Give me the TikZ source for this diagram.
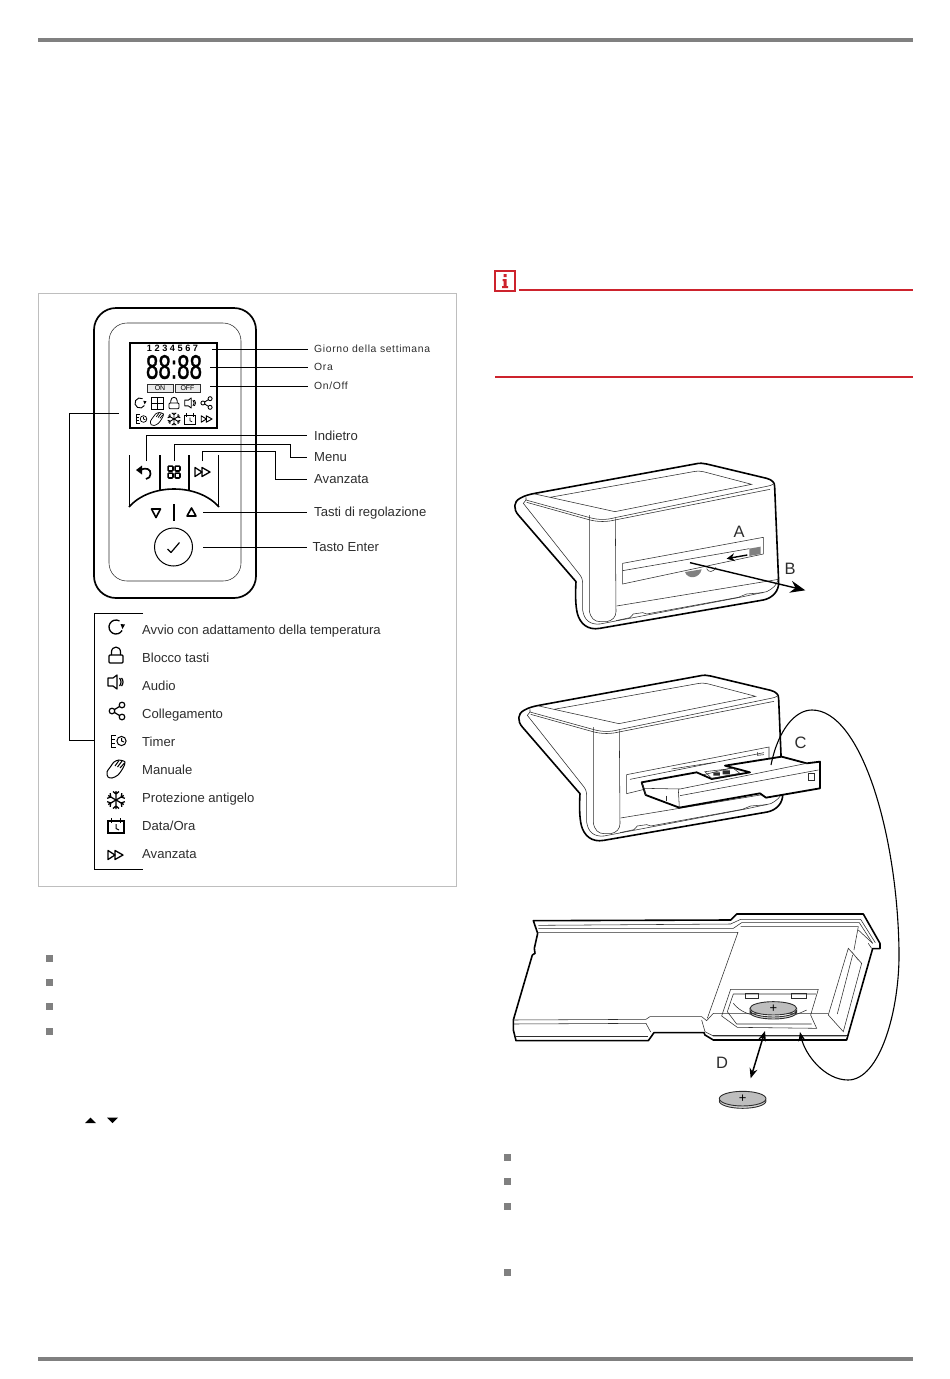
\documentclass[tikz,border=0pt]{standalone}
\usepackage{fontspec}
\setmainfont{Liberation Sans}
\newfontfamily\spacedfont[LetterSpace=6]{Liberation Sans}
\newfontfamily\clockfont[FakeBold=1.2]{Liberation Sans}
\usetikzlibrary{arrows.meta}
\definecolor{barGray}{RGB}{128,128,128}
\definecolor{boxGray}{RGB}{190,190,190}
\definecolor{coinGray}{RGB}{190,190,190}
\definecolor{inkGray}{RGB}{45,45,45}
\definecolor{warnRed}{RGB}{205,35,45}
\tikzset{
  lbl/.style={anchor=west,inner sep=0pt,text height=12pt,text depth=2pt,text=inkGray,font=\fontsize{13.1}{15}\selectfont},
  keylbl/.style={lbl,text height=11pt},
  smalllbl/.style={lbl,text height=8.5pt,text depth=2pt,font=\fontsize{10.4}{13}\spacedfont},
  leader/.style={line width=0.8pt,black},
  letterlbl/.style={inner sep=0pt,text=inkGray,font=\fontsize{16.5}{18}\selectfont},
  thin_line/.style={line width=0.55pt,inkGray},
  thick_line/.style={line width=1.6pt,black,line join=round},
  bullet/.style={fill=barGray,draw=none},
}
% icons: x, y, scale; drawn in a box of about 16 units
\newcommand{\iconrestart}[3]{\begin{scope}[shift={(#1,#2)},scale=#3,line width=#3*1.3pt]
\draw (6.06,3.5) arc (30:300:7);
\fill (4.5,-3) -- (9,-2.5) -- (6.5,2) -- cycle;
\end{scope}}
\newcommand{\iconlock}[3]{\begin{scope}[shift={(#1,#2)},scale=#3,line width=#3*1.2pt]
\draw[rounded corners=1pt] (-7,0) rectangle (7,8);
\draw (-4.5,0) -- (-4.5,-3) .. controls (-4.5,-9.5) and (4.5,-9.5) .. (4.5,-3) -- (4.5,0);
\end{scope}}
\newcommand{\iconaudio}[3]{\begin{scope}[shift={(#1,#2)},scale=#3,line width=#3*1.2pt]
\draw[line join=round] (-8,-4) -- (-3,-4) -- (1,-7) -- (1,7) -- (-3,4) -- (-8,4) -- cycle;
\draw (3.5,-4) .. controls (5.5,-2) and (5.5,2) .. (3.5,4);
\draw (5.5,-4) .. controls (7.5,-2) and (7.5,2) .. (5.5,4);
\end{scope}}
\newcommand{\iconshare}[3]{\begin{scope}[shift={(#1,#2)},scale=#3,line width=#3*1.2pt]
\draw (-5,0) circle (2.8) (5,-6) circle (2.8) (5,6) circle (2.8);
\draw (-2.6,-1.4) -- (2.6,-4.6) (-2.6,1.4) -- (2.6,4.6);
\end{scope}}
\newcommand{\icontimer}[3]{\begin{scope}[shift={(#1,#2)},scale=#3,line width=#3*1pt]
\draw (-2,-6) -- (-7,-6) -- (-7,6) -- (-2,6) (-7,-2) -- (-3,-2) (-7,2) -- (-3,2);
\draw (3.5,0) circle (4.6);
\draw (3.5,-3) -- (3.5,0) -- (6,1);
\end{scope}}
\newcommand{\iconhand}[3]{\begin{scope}[shift={(#1,#2)},scale=#3,line width=#3*1pt]
\draw plot[smooth cycle] coordinates {(-8,8) (-9,3) (-5,-3) (-2,-7) (3,-9) (9,-7) (7,-1) (2,6) (-4,9)};
\draw (-1,-3) -- (3,-8.5) (1.5,-2) -- (6,-8) (4,-1) -- (8.5,-6);
\end{scope}}
\newcommand{\iconsnow}[3]{\begin{scope}[shift={(#1,#2)},scale=#3,line width=#3*1.25pt]
\foreach \a in {0,60,120,180,240,300} {
\draw[rotate=\a] (0,0) -- (0,-9) (-3,-8.5) -- (0,-6) -- (3,-8.5);
}
\end{scope}}
\newcommand{\iconcal}[3]{\begin{scope}[shift={(#1,#2)},scale=#3,line width=#3*1.4pt]
\draw (-8,-5) rectangle (8,7);
\draw (-4.5,-8) -- (-4.5,-3) (4.5,-8) -- (4.5,-3);
\draw[line width=#3*1pt] (0,-2) -- (0,2.5) -- (3,4);
\end{scope}}
\newcommand{\iconff}[3]{\begin{scope}[shift={(#1,#2)},scale=#3,line width=#3*1.3pt]
\draw[line join=round] (-8,-4.5) -- (-1,0) -- (-8,4.5) -- cycle;
\draw[line join=round] (-1,-4.5) -- (7,0) -- (-1,4.5) -- cycle;
\end{scope}}
% base unit with the slanted top, drawn in 1/3 px
\newcommand{\devicebody}{
\draw[thick_line,fill=white] (105,130) -- (585,42) .. controls (600,38) and (610,40) .. (620,42) -- (800,85)
  .. controls (818,90) and (824,98) .. (824,110) -- (836,395) .. controls (838,425) and (815,445) .. (790,450)
  -- (300,535) .. controls (262,542) and (240,520) .. (232,490) .. controls (226,465) and (226,430) .. (228,395)
  -- (55,195) .. controls (40,178) and (40,155) .. (60,145) .. controls (75,136) and (90,133) .. (105,130) -- cycle;
\draw[thin_line] (78,150) -- (70,160) -- (240,375) .. controls (248,385) and (248,395) .. (248,410) -- (248,480)
  .. controls (252,510) and (270,525) .. (300,522) -- (720,442) -- (800,425) .. controls (820,415) and (830,405) .. (834,390);
\draw[thin_line] (78,142) -- (78,150) -- (270,203) .. controls (295,210) and (320,210) .. (345,203) -- (805,108) .. controls (815,106) and (822,102) .. (824,98);
\draw[thin_line] (80,157) -- (270,210) .. controls (295,216) and (320,216) .. (345,210) -- (810,118);
\draw[thin_line] (105,132) -- (150,142) -- (345,185) -- (755,103) -- (610,65) .. controls (600,63) and (590,62) .. (580,65) -- (150,142);
\draw[thin_line] (268,195) -- (268,480) .. controls (270,505) and (285,515) .. (300,515) -- (320,515) .. controls (338,512) and (348,500) .. (348,485) -- (346,205);
\draw[thin_line] (350,468) -- (836,388);
\draw[thin_line] (348,512) -- (390,503) -- (400,492) -- (428,488) -- (440,492) -- (715,442) -- (740,432) -- (790,428);
}
\begin{document}
\begin{tikzpicture}[x=1pt,y=-1pt]
\useasboundingbox (0,0) rectangle (950,1379);
\draw[barGray,line width=3.6pt] (38,40) -- (913,40);
\draw[barGray,line width=3.6pt] (38,1359) -- (913,1359);
\draw[boxGray,line width=0.9pt] (38,293) rectangle (456,886);

% thermostat front
\draw[line width=1.7pt,rounded corners=22pt] (94,308) rectangle (256,598);
\draw[thin_line,rounded corners=18pt] (109,323) rectangle (241,581);
\draw[line width=2pt] (130,343) rectangle (217,428);
\node[inner sep=0pt,font=\bfseries\fontsize{9.2}{11}\selectfont] (day_digits) at (172.5,348.5) {1 2 3 4 5 6 7};
\node[inner sep=0pt,xscale=0.66,transform shape,font=\clockfont\fontsize{34}{36}\selectfont] (clock_digits) at (174,367) {88:88};
\draw[inkGray,line width=1pt,fill=black!8] (147,384) rectangle (173,392) (175,384) rectangle (200,392);
\node[inner sep=0pt,font=\fontsize{7}{8}\selectfont] (on_text) at (160,388.3) {ON};
\node[inner sep=0pt,font=\fontsize{7}{8}\selectfont] (off_text) at (187.5,388.3) {OFF};
\iconrestart{140}{403}{0.72}
\draw[line width=0.9pt] (151,397) rectangle (163,409) (157,397) -- (157,409) (151,403) -- (163,403);
\iconlock{174}{403}{0.72}
\iconaudio{190.5}{403}{0.72}
\iconshare{206.5}{403}{0.72}
\icontimer{141}{419}{0.72}
\iconhand{157}{419}{0.72}
\iconsnow{174}{419}{0.72}
\iconcal{190}{419}{0.72}
\iconff{207}{419}{0.72}

% buttons
\draw[line width=1.6pt] (129.5,455) -- (129.5,507) (218.5,455) -- (218.5,507);
\draw[line width=1.6pt] (160,455) -- (160,490) (189,455) -- (189,490);
\draw[line width=1.6pt] (129,507) .. controls (150,483) and (198,483) .. (219,507);
\draw[line width=1.7pt] (140,470) .. controls (146,467) and (151,469) .. (150.5,474) .. controls (150.5,477) and (149,478) .. (146,479);
\fill (136,470) -- (142,465.5) -- (142,474.5) -- cycle;
\foreach \i in {-1,1} \foreach \j in {-1,1}
  \draw[line width=1.7pt,rounded corners=0.8pt] (174+\i*3.5-2.4,472+\j*3.5-2.4) rectangle (174+\i*3.5+2.4,472+\j*3.5+2.4);
\iconff{203}{472}{1}
\draw[line width=1.6pt,line join=round] (151.5,509) -- (160.5,509) -- (156,517.5) -- cycle;
\draw[line width=1.6pt,line join=round] (187,516) -- (196,516) -- (191.5,508) -- cycle;
\draw[line width=2pt] (174,504) -- (174,521);
\node[circle,draw,line width=1pt,minimum size=38pt,inner sep=0pt] (enter_key) at (173.5,547) {};
\draw[line width=1.2pt,line join=round] (167.5,549) -- (171,552.5) -- (179.5,542.5);

% display and key labels
\node[smalllbl] (lbl_day) at (314,349) {Giorno della settimana};
\node[smalllbl] (lbl_hour) at (314,367) {Ora};
\node[smalllbl] (lbl_onoff) at (314,386) {On/Off};
\node[lbl] (lbl_back) at (314,435.5) {Indietro};
\node[keylbl] (lbl_menu) at (314,457) {Menu};
\node[keylbl] (lbl_adv) at (314,479) {Avanzata};
\node[keylbl] (lbl_adjust) at (314,512) {Tasti di regolazione};
\node[keylbl] (lbl_enter) at (312.5,547) {Tasto Enter};
\draw[leader] (212,349) -- ([shift={(-6,0)}] lbl_day.west);
\draw[leader] (210,367) -- ([shift={(-6,0)}] lbl_hour.west);
\draw[leader] (210,386) -- ([shift={(-6,0)}] lbl_onoff.west);
\draw[leader] (146,461) -- (146,435.5) -- ([shift={(-7,0)}] lbl_back.west);
\draw[leader] (174,461) -- (174,444) -- (290,444) -- (290,457) -- ([shift={(-7,0)}] lbl_menu.west);
\draw[leader] (202,461) -- (202,451.5) -- (275,451.5) -- (275,479) -- ([shift={(-7,0)}] lbl_adv.west);
\draw[leader] (203,512) -- ([shift={(-7,0)}] lbl_adjust.west);
\draw[leader] (203,547) -- ([shift={(-6,0)}] lbl_enter.west);

% legend
\draw[leader] (143,613) -- (94,613) -- (94,869) -- (143,869);
\draw[leader] (94,740) -- (69,740) -- (69,413) -- (119,413);
\iconrestart{116}{627}{1}
\node[lbl] (leg_start) at (142,629.5) {Avvio con adattamento della temperatura};
\iconlock{116}{655}{1}
\node[lbl] (leg_lock) at (142,657.5) {Blocco tasti};
\iconaudio{116}{682}{1}
\node[lbl] (leg_audio) at (142,685.5) {Audio};
\iconshare{117}{711}{1}
\node[lbl] (leg_link) at (142,713.5) {Collegamento};
\icontimer{118}{741}{1}
\node[lbl] (leg_timer) at (142,741.5) {Timer};
\iconhand{116}{769}{1}
\node[lbl] (leg_manual) at (142,769.5) {Manuale};
\iconsnow{116}{800}{1}
\node[lbl] (leg_frost) at (142,797.5) {Protezione antigelo};
\iconcal{116}{826}{1}
\node[lbl] (leg_date) at (142,825.5) {Data/Ora};
\iconff{116}{855}{1}
\node[lbl] (leg_adv) at (142,853.5) {Avanzata};

% bullets left
\foreach \y in {958,982,1006,1031} \fill[bullet] (46,\y-3.5) rectangle (53,\y+3.5);
\fill (85,1123) -- (96,1123) -- (90.5,1117.5) -- cycle;
\fill (107,1117.5) -- (118,1117.5) -- (112.5,1123) -- cycle;

% note frame
\draw[warnRed,line width=1.5pt] (495,271) rectangle (515,291);
\fill[warnRed] (503.5,274) rectangle (506.5,277) (502.5,279) -- (506.5,279) -- (506.5,286) -- (508,286) -- (508,288) -- (502,288) -- (502,286) -- (503.5,286) -- (503.5,281) -- (502.5,281) -- cycle;
\draw[warnRed,line width=1.6pt] (519,290) -- (913,290);
\draw[warnRed,line width=1.6pt] (495,377) -- (913,377);

% unit with slide closed
\begin{scope}[shift={(500,450)},scale=0.3333]
\devicebody
\draw[thin_line,fill=white] (368,340) -- (790,262) -- (790,312) -- (368,402) -- cycle;
\draw[thin_line] (368,362) -- (748,296);
\fill[barGray] (748,296) -- (782,290) -- (782,312) -- (748,318) -- cycle;
\fill[barGray] (555,366) .. controls (562,388) and (598,388) .. (605,358) -- cycle;
\draw[thin_line] (620,356) .. controls (625,368) and (640,368) .. (648,352);
\coordinate (slide_a0) at (742,315);
\coordinate (slide_a1) at (680,326);
\coordinate (slide_b0) at (570,338);
\coordinate (slide_b1) at (916,421);
\draw[line width=1.4pt,-{Stealth[length=8pt,width=8pt]}] (slide_a0) -- (slide_a1);
\draw[line width=1.4pt,-{Stealth[length=15pt,width=12pt]}] (slide_b0) -- (slide_b1);
\end{scope}
\node[letterlbl] (mark_a) at (739,532) {A};
\node[letterlbl] (mark_b) at (790,569) {B};

% unit with slide pulled out
\begin{scope}[shift={(504,662)},scale=0.3333]
\devicebody
\draw[thin_line,fill=white] (368,338) -- (795,255) -- (795,290) -- (368,395) -- cycle;
\draw[thin_line] (378,352) -- (780,272) (760,270) -- (760,280) -- (780,278);
\end{scope}
\begin{scope}[shift={(500,665)},scale=0.3333]
\draw[line width=1.8pt,fill=white,line join=round] (425,352) -- (590,322) -- (635,342) -- (750,322) -- (675,302) -- (845,275) -- (920,295) -- (960,290) -- (960,370) -- (798,398) -- (780,385) -- (538,428) -- (437,390) -- cycle;
\draw[thin_line] (425,352) -- (432,370) -- (540,372) -- (920,295);
\draw[thin_line] (432,370) -- (437,390) (535,372) -- (538,428) (540,392) -- (955,315);
\draw[thin_line] (500,392) -- (500,408) (925,325) rectangle (943,345);
\draw[thin_line] (515,312) -- (645,292) (615,320) -- (635,340) -- (720,325) -- (700,310) -- cycle;
\fill[inkGray] (640,322) rectangle (660,332) (668,316) rectangle (690,328);
\end{scope}
\node[letterlbl] (mark_c) at (800.5,743) {C};

% open slide with battery
\begin{scope}[shift={(500,900)},scale=0.3333]
\draw[thick_line,fill=white] (100,62) -- (692,60) -- (710,42) -- (1090,42) -- (1140,130) -- (1140,146) -- (1118,146) -- (1040,420) -- (640,420) -- (615,405) -- (612,398) -- (462,398) -- (445,422) -- (48,422) -- (40,390) -- (40,360) -- (97,165) -- (105,160) -- (103,145) -- (113,100) -- cycle;
\draw[thin_line] (115,76) -- (692,72) -- (722,58) -- (1082,58) -- (1126,128);
\draw[thin_line] (115,85) -- (700,85) -- (725,68) -- (1078,68) -- (1118,130);
\draw[thin_line] (113,97) -- (714,97) -- (622,355) (722,80) -- (1075,80) -- (1062,150);
\draw[thin_line] (40,360) -- (438,358) -- (450,350) -- (605,350) -- (620,362) -- (640,340) -- (985,340);
\draw[thin_line] (42,372) -- (438,370) -- (452,396) (605,360) -- (615,395) -- (640,408) -- (1038,408);
\draw[thin_line] (45,410) -- (445,410);
\draw[thin_line] (1045,145) -- (1085,190) -- (1030,395) -- (985,345) -- cycle (1055,155) -- (1075,180) (1075,90) -- (1118,130) (1105,130) -- (1115,145);
\draw[thin_line] (1012,342) -- (1058,165);
\draw[thin_line] (692,268) -- (955,268) -- (932,345) -- (950,385) -- (712,382) -- (665,348) -- cycle;
\draw[thin_line] (700,282) -- (948,282) (700,282) -- (682,335) -- (710,372) -- (935,372);
\draw[thin_line] (700,310) .. controls (720,335) and (745,342) .. (760,345) .. controls (800,362) and (860,360) .. (920,330);
\draw[thin_line] (735,280) rectangle (775,295) (875,280) rectangle (918,295);
\draw[thin_line] (640,405) -- (1040,405);
\draw[inkGray,line width=0.9pt,fill=coinGray!60] (750,331) arc (180:0:70 and 20) -- (890,337) arc (0:180:70 and 20) -- cycle;
\draw[inkGray,line width=0.9pt,fill=coinGray] (820,325) ellipse (70 and 20);
\node[inner sep=0pt,font=\fontsize{13}{13}\selectfont] (plus_in) at (820,325) {+};
\coordinate (coin_top) at (795,393);
\coordinate (coin_down) at (752,535);
\draw[line width=1.5pt,{Stealth[length=10pt,width=8pt]}-{Stealth[length=10pt,width=8pt]}] (coin_top) -- (coin_down);
\draw[inkGray,line width=0.9pt,fill=coinGray!60] (728,603) ellipse (70 and 22);
\draw[inkGray,line width=0.9pt,fill=coinGray] (728,596) ellipse (70 and 22);
\node[inner sep=0pt,font=\fontsize{13}{13}\selectfont] (plus_out) at (728,596) {+};
\end{scope}
\node[letterlbl] (mark_d) at (722,1063) {D};

% big loop from slide to battery bay
\coordinate (loop_start) at (771,765);
\coordinate (loop_end) at (800,1032);
\draw[line width=1.1pt,-{Stealth[length=9pt,width=7pt]}] (loop_start) .. controls (778,730) and (795,710) .. (812,710) .. controls (860,710) and (897,830) .. (899,950) .. controls (900,1010) and (880,1080) .. (848,1080) .. controls (825,1080) and (805,1055) .. (loop_end);

% bullets right
\foreach \y in {1157,1181,1206,1272} \fill[bullet] (504,\y-3.5) rectangle (511,\y+3.5);
\end{tikzpicture}
\end{document}
